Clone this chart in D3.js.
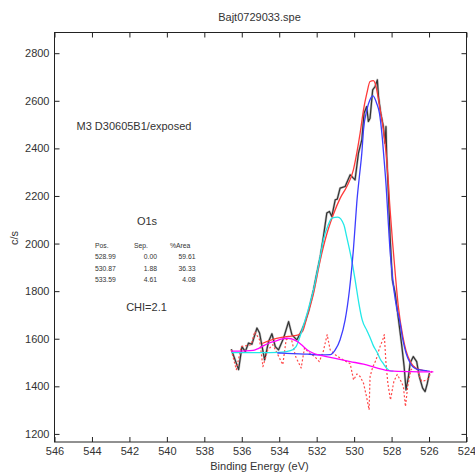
<!DOCTYPE html>
<html>
<head>
<meta charset="utf-8">
<script src="https://cdn.jsdelivr.net/npm/d3@7"></script>
<style>
  html, body { margin: 0; padding: 0; background: #fff; }
  svg { display: block; }
  text { font-family: "Liberation Sans", Arial, sans-serif; fill: #333; }
</style>
</head>
<body>
<svg id="chart" width="475" height="474"></svg>
<script>
// O1s spectrum: binding energy (eV) and counts per second
const dataEnergy = [536.56, 536.17, 535.99, 535.81, 535.64, 535.46, 535.19, 535.05, 534.78, 534.57,
  534.39, 534.21, 534.04, 533.77, 533.50, 533.32, 533.06, 532.79, 532.61, 532.44,
  532.17, 532.03, 531.81, 531.64, 531.46, 531.32, 531.19, 531.01, 530.90, 530.75,
  530.48, 530.21, 530.04, 529.95, 529.77, 529.59, 529.47, 529.33, 529.24, 529.15,
  529.01, 528.88, 528.76, 528.70, 528.58, 528.44, 528.35, 528.30, 528.26, 528.17,
  528.08, 527.96, 527.81, 527.72, 527.63, 527.45, 527.33, 527.23, 527.10, 527.01,
  526.84, 526.66, 526.52, 526.34, 526.21, 526.09, 525.98];
const dataCounts = [1556, 1470, 1567, 1546, 1582, 1577, 1645, 1624, 1511, 1588,
  1621, 1567, 1553, 1602, 1672, 1616, 1595, 1637, 1672, 1714,
  1805, 1861, 1945, 2029, 2128, 2135, 2114, 2184, 2187, 2233,
  2240, 2289, 2275, 2268, 2380, 2436, 2548, 2576, 2513, 2527,
  2646, 2660, 2688, 2618, 2548, 2492, 2422, 2492, 2366, 2212,
  2030, 1847, 1792, 1735, 1680, 1567, 1483, 1385, 1441, 1498,
  1525, 1504, 1441, 1392, 1378, 1413, 1455];

// Fit envelope (sum of components plus background)
const envelopeEnergy = [534.91, 534.14, 533.52, 533.08, 532.76, 532.52, 532.17, 531.81, 531.46, 531.12,
  530.75, 530.39, 530.04, 529.86, 529.68, 529.50, 529.32, 529.15, 528.97, 528.88,
  528.61, 528.44, 528.26, 528.08, 527.79, 527.64, 527.40, 527.23, 527.01, 526.66, 526.12];
const envelopeCounts = [1580, 1601, 1610, 1614, 1630, 1693, 1790, 1930, 2040, 2120,
  2190, 2240, 2310, 2380, 2464, 2562, 2632, 2681, 2685, 2674,
  2562, 2480, 2352, 2142, 1860, 1735, 1610, 1550, 1505, 1475, 1465];

// Component 1 (528.99 eV) on background
const peak1Energy = [534.10, 533.30, 532.50, 531.80, 531.28, 531.01, 530.75, 530.48, 530.25, 530.12,
  530.04, 529.95, 529.86, 529.72, 529.59, 529.50, 529.32, 529.15, 528.99, 528.80,
  528.65, 528.52, 528.40, 528.29, 528.20, 528.10, 527.98, 527.85, 527.70, 527.58,
  527.40, 527.23, 527.01, 526.66, 526.12, 525.95];
const peak1Counts = [1540, 1537, 1535, 1532, 1533, 1553, 1596, 1679, 1805, 1903,
  1974, 2071, 2170, 2282, 2380, 2478, 2562, 2605, 2621, 2590,
  2548, 2464, 2352, 2240, 2120, 1990, 1880, 1790, 1720, 1680,
  1596, 1540, 1498, 1472, 1465, 1463];

// Component 2 (530.87 eV) on background
const peak2Energy = [536.56, 535.00, 534.00, 533.40, 533.10, 532.83, 532.56, 532.17, 531.81, 531.64,
  531.38, 531.19, 530.87, 530.55, 530.40, 530.28, 530.10, 529.92, 529.75, 529.57,
  529.32, 529.15, 528.97, 528.79, 528.61, 528.44, 528.25, 528.08, 527.90];
const peak2Counts = [1542, 1542, 1543, 1550, 1567, 1624, 1693, 1805, 1945, 2016,
  2079, 2107, 2111, 2079, 2029, 1987, 1918, 1834, 1750, 1679,
  1635, 1605, 1570, 1545, 1515, 1495, 1475, 1465, 1464];

// Component 3 (533.59 eV) on background, continuing along the background
const peak3Energy = [536.56, 535.80, 535.40, 535.20, 534.90, 534.60, 534.20, 533.90, 533.59, 533.30,
  533.00, 532.75, 532.50, 532.20, 531.90, 531.55, 531.01, 530.21, 529.50, 528.80,
  528.08, 527.00, 525.77];
const peak3Counts = [1548, 1549, 1551, 1556, 1568, 1580, 1590, 1598, 1602, 1598,
  1586, 1570, 1553, 1540, 1532, 1526, 1517, 1504, 1493, 1478,
  1465, 1462, 1461];

// Residual plotted about the background
const residualEnergy = [536.56, 536.29, 536.03, 535.49, 535.31, 535.05, 534.87, 534.61, 534.34, 533.81,
  533.63, 533.36, 533.13, 532.83, 532.65, 532.39, 532.12, 531.86, 531.65, 531.44,
  531.28, 531.01, 530.75, 530.21, 530.03, 529.85, 529.68, 529.50, 529.34, 529.20,
  529.15, 529.01, 528.83, 528.65, 528.47, 528.39, 528.30, 528.20, 528.06, 527.88,
  527.70, 527.49, 527.37, 527.26, 527.14, 526.97, 526.80, 526.63, 526.39, 526.10, 525.81];
const residualCounts = [1553, 1470, 1567, 1575, 1630, 1596, 1483, 1553, 1575, 1491,
  1596, 1602, 1526, 1477, 1561, 1540, 1526, 1504, 1546, 1617,
  1553, 1533, 1519, 1495, 1427, 1452, 1441, 1413, 1357, 1301,
  1441, 1480, 1511, 1560, 1596, 1617, 1498, 1413, 1343, 1420,
  1450, 1420, 1399, 1315, 1399, 1469, 1483, 1469, 1420, 1427, 1470];

// Axis ticks and range
const xTicks = [546, 544, 542, 540, 538, 536, 534, 532, 530, 528, 526, 524];
const yTicks = [1200, 1400, 1600, 1800, 2000, 2200, 2400, 2600, 2800];
const xDomain = [546, 524];
const yDomain = [1166, 2887];

// Fit summary
const peakPositions = ["528.99", "530.87", "533.59"];
const peakSeparations = ["0.00", "1.88", "4.61"];
const peakAreas = ["59.61", "36.33", "4.08"];

const plot = { left: 54.5, right: 466.5, top: 32.5, bottom: 442 };
const svg = d3.select("#chart");

const x = d3.scaleLinear().domain(xDomain).range([plot.left, plot.right]);
const y = d3.scaleLinear().domain(yDomain).range([plot.bottom, plot.top]);

// Axes with inward ticks on all four sides
const tick = 5;
svg.append("g")
  .attr("transform", `translate(0,${plot.bottom})`)
  .call(d3.axisBottom(x).tickValues(xTicks).tickFormat(d3.format("d")).tickSizeInner(-tick).tickSizeOuter(0).tickPadding(5))
  .call(g => g.select(".domain").remove());
svg.append("g")
  .attr("transform", `translate(0,${plot.top})`)
  .call(d3.axisTop(x).tickValues(xTicks).tickFormat("").tickSizeInner(-tick).tickSizeOuter(0))
  .call(g => g.select(".domain").remove());
svg.append("g")
  .attr("transform", `translate(${plot.left},0)`)
  .call(d3.axisLeft(y).tickValues(yTicks).tickFormat(d3.format("d")).tickSizeInner(-tick).tickSizeOuter(0).tickPadding(5))
  .call(g => g.select(".domain").remove());
svg.append("g")
  .attr("transform", `translate(${plot.right},0)`)
  .call(d3.axisRight(y).tickValues(yTicks).tickFormat("").tickSizeInner(-tick).tickSizeOuter(0))
  .call(g => g.select(".domain").remove());

svg.selectAll(".tick line").attr("stroke", "#222");
svg.selectAll(".tick text")
  .attr("font-family", "Liberation Sans, Arial, sans-serif")
  .attr("font-size", 11)
  .attr("fill", "#333");

svg.append("rect")
  .attr("x", plot.left).attr("y", plot.top)
  .attr("width", plot.right - plot.left).attr("height", plot.bottom - plot.top)
  .attr("fill", "none").attr("stroke", "#222").attr("stroke-width", 1);

const zip = (es, cs) => es.map((e, i) => [e, cs[i]]);
const smooth = d3.line().x(d => x(d[0])).y(d => y(d[1])).curve(d3.curveMonotoneX);
const straight = d3.line().x(d => x(d[0])).y(d => y(d[1]));
const ascending = arr => arr.slice().sort((a, b) => x(a[0]) - x(b[0]));

const curves = svg.append("g").attr("fill", "none").attr("stroke-linejoin", "round");

// Measured spectrum
curves.append("path")
  .attr("d", straight(ascending(zip(dataEnergy, dataCounts))))
  .attr("stroke", "#9a9a9a").attr("stroke-width", 2.4).attr("opacity", 0.6);
curves.append("path")
  .attr("d", straight(ascending(zip(dataEnergy, dataCounts))))
  .attr("stroke", "#333").attr("stroke-width", 1.2);

// Residual
curves.append("path")
  .attr("d", straight(ascending(zip(residualEnergy, residualCounts))))
  .attr("stroke", "#ff4a4a").attr("stroke-width", 1.2).attr("stroke-dasharray", "2,2");

// Envelope
curves.append("path")
  .attr("d", smooth(ascending(zip(envelopeEnergy, envelopeCounts))))
  .attr("stroke", "#ff3a3a").attr("stroke-width", 1.3);

// Components
curves.append("path")
  .attr("d", smooth(ascending(zip(peak2Energy, peak2Counts))))
  .attr("stroke", "#22e8e8").attr("stroke-width", 1.3);
curves.append("path")
  .attr("d", smooth(ascending(zip(peak1Energy, peak1Counts))))
  .attr("stroke", "#3d3dff").attr("stroke-width", 1.3);
curves.append("path")
  .attr("d", smooth(ascending(zip(peak3Energy, peak3Counts))))
  .attr("stroke", "#ff00ff").attr("stroke-width", 1.3);

// Titles and labels
svg.append("text").attr("x", 259.5).attr("y", 18).attr("text-anchor", "middle")
  .attr("dominant-baseline", "middle").attr("font-size", 11).text("Bajt0729033.spe");
svg.append("text").attr("x", 259.5).attr("y", 467).attr("text-anchor", "middle")
  .attr("dominant-baseline", "middle").attr("font-size", 11).text("Binding Energy (eV)");
svg.append("text").attr("transform", "translate(15,238) rotate(-90)").attr("text-anchor", "middle")
  .attr("dominant-baseline", "middle").attr("font-size", 11).text("c/s");

svg.append("text").attr("x", 76.5).attr("y", 127).attr("dominant-baseline", "middle")
  .attr("font-size", 11).text("M3 D30605B1/exposed");
svg.append("text").attr("x", 147).attr("y", 222.5).attr("text-anchor", "middle")
  .attr("dominant-baseline", "middle").attr("font-size", 11).text("O1s");
svg.append("text").attr("x", 146.5).attr("y", 308).attr("text-anchor", "middle")
  .attr("dominant-baseline", "middle").attr("font-size", 11).text("CHI=2.1");

// Fit table
const table = svg.append("g")
  .style("font-family", "'Liberation Mono', 'DejaVu Sans Mono', monospace")
  .attr("font-size", 6.8);
const rowY = [257.5, 268.8, 280.1];
table.append("text").attr("x", 95).attr("y", 246.7).attr("dominant-baseline", "middle").text("Pos.");
table.append("text").attr("x", 134).attr("y", 246.7).attr("dominant-baseline", "middle").text("Sep.");
table.append("text").attr("x", 170).attr("y", 246.7).attr("dominant-baseline", "middle").text("%Area");
peakPositions.forEach((p, i) => {
  table.append("text").attr("x", 95).attr("y", rowY[i]).attr("dominant-baseline", "middle").text(p);
  table.append("text").attr("x", 157).attr("y", rowY[i]).attr("text-anchor", "end")
    .attr("dominant-baseline", "middle").text(peakSeparations[i]);
  table.append("text").attr("x", 195.5).attr("y", rowY[i]).attr("text-anchor", "end")
    .attr("dominant-baseline", "middle").text(peakAreas[i]);
});
</script>
</body>
</html>
